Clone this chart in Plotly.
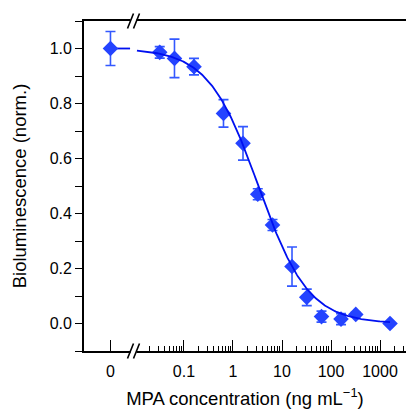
import numpy as np
import plotly.graph_objects as go

# ---- data ----
concentration = [0, 0.032, 0.064, 0.16, 0.64, 1.6, 3.2, 6.4, 16, 32, 64, 160, 320, 1600]
biolum = [1.0, 0.986, 0.964, 0.934, 0.764, 0.655, 0.470, 0.358, 0.207, 0.095, 0.025, 0.016, 0.033, 0.0]
biolum_err = [0.062, 0.021, 0.070, 0.030, 0.050, 0.061, 0.020, 0.020, 0.071, 0.030, 0.020, 0.020, 0.008, 0.004]

# fitted 4-parameter logistic
FIT_TOP = 1.0
FIT_BOTTOM = 0.0
FIT_IC50 = 3.3
FIT_HILL = 0.85

x_tick_labels = ["0", "0.1", "1", "10", "100", "1000"]
y_tick_vals = [0.0, 0.2, 0.4, 0.6, 0.8, 1.0]

# ---- layout helpers ----
ZERO_POS = 10 ** -2.5          # where the "0" concentration sits on the broken log axis
X_RANGE = [-3.04, 3.53]
Y_RANGE = [-0.1, 1.1]
W, H = 407, 410
ML, MR, MT, MB = 84, 1, 21, 59
PW, PH = W - ML - MR, H - MT - MB

def px_x(p):
    return (p - ML) / PW

def px_y(p):
    return (H - MB - p) / PH

def logistic(x):
    return FIT_BOTTOM + (FIT_TOP - FIT_BOTTOM) / (1 + (x / FIT_IC50) ** FIT_HILL)

x_plot = [ZERO_POS if c == 0 else c for c in concentration]

BLUE_M = "#2443FF"
BLUE_E = "#3358FF"
BLUE_L = "#0010F0"

fig = go.Figure()

# bridge from zero point to the axis break
fig.add_trace(go.Scatter(
    x=[ZERO_POS, 10 ** -2.1], y=[FIT_TOP, FIT_TOP], mode="lines",
    line=dict(color=BLUE_L, width=1.8), showlegend=False, hoverinfo="skip"))

fig.add_trace(go.Scatter(
    x=x_plot, y=biolum, mode="markers",
    marker=dict(symbol="diamond", size=12, color=BLUE_M, line=dict(width=0)),
    error_y=dict(type="data", array=biolum_err, color=BLUE_E, thickness=1.6, width=5),
    showlegend=False))

xc = np.logspace(-1.96, np.log10(1600), 300)
fig.add_trace(go.Scatter(
    x=xc, y=logistic(xc), mode="lines",
    line=dict(color=BLUE_L, width=1.8), showlegend=False, hoverinfo="skip"))

minor_vals = []
for dec in [0.01, 0.1, 1, 10, 100, 1000]:
    for k in range(2, 10):
        v = k * dec
        if 0.015 < v < 3500:
            minor_vals.append(v)

FONT = "Liberation Sans, Arial, sans-serif"

fig.update_xaxes(
    type="log", range=X_RANGE,
    tickvals=[ZERO_POS, 0.1, 1, 10, 100, 1000], ticktext=x_tick_labels,
    ticks="inside", ticklen=11, tickwidth=1.3, tickcolor="black",
    minor=dict(tickvals=minor_vals, ticks="inside", ticklen=5, tickwidth=1.1, tickcolor="black"),
    showline=True, linecolor="black", linewidth=1.8, mirror=True,
    showgrid=False, zeroline=False,
    ticklabelstandoff=5,
    tickfont=dict(family=FONT, size=16, color="black"),
    title=dict(text="MPA concentration (ng mL<sup>\u22121</sup>)",
               font=dict(family=FONT, size=18.5, color="black"), standoff=13),
)
fig.update_yaxes(
    range=Y_RANGE, tickvals=y_tick_vals, tickformat=".1f",
    ticks="outside", ticklen=7, tickwidth=1.3, tickcolor="black",
    minor=dict(dtick=0.1, ticks="outside", ticklen=7, tickwidth=1.3, tickcolor="black"),
    showline=True, linecolor="black", linewidth=1.8, mirror=False,
    showgrid=False, zeroline=False,
    tickfont=dict(family=FONT, size=16, color="black"),
    title=dict(text="Bioluminescence (norm.)",
               font=dict(family=FONT, size=18.5, color="black"), standoff=18),
)

shapes = []
xa, xb = 130.5, 136.5
for ly in [MT, H - MB]:
    shapes.append(dict(type="rect", xref="paper", yref="paper",
                       x0=px_x(xa), x1=px_x(xb), y0=px_y(ly + 2), y1=px_y(ly - 2),
                       fillcolor="white", line=dict(width=0), layer="above"))
    for cx in [xa, xb]:
        shapes.append(dict(type="line", xref="paper", yref="paper",
                           x0=px_x(cx - 3), y0=px_y(ly + 7.5),
                           x1=px_x(cx + 3), y1=px_y(ly - 7.5),
                           line=dict(color="black", width=1.6), layer="above"))

fig.update_layout(
    width=W, height=H,
    margin=dict(l=ML, r=MR, t=MT, b=MB),
    paper_bgcolor="white", plot_bgcolor="white",
    font=dict(family=FONT, color="black"),
    shapes=shapes,
)

fig.write_html("out.html", config={"displayModeBar": False},
               post_script="document.body.style.margin='0';document.body.style.padding='0';")
